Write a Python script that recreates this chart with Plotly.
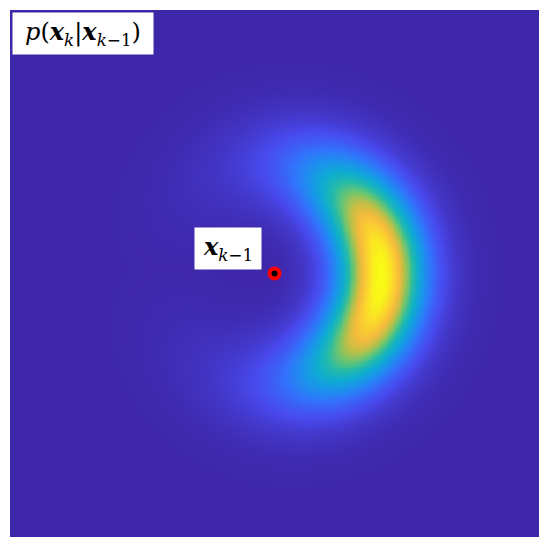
import numpy as np
import plotly.graph_objects as go

# ---- data ----
prev_state = [0.0, 0.0]          # x_{k-1}
range_peak = 0.401               # most likely travelled distance
bearing_mean_deg = 2.0           # heading (to the right, slightly down)

core_range_std = 0.095           # sharp part of the density
core_bearing_deg = 47.0
core_bearing_shape = 2.5

halo_weight = 0.25               # soft halo around it
halo_range_std = 0.16
halo_bearing_deg = 68.0
halo_bearing_shape = 2.0

axis_range = [-1.0, 1.0]
grid_n = 301

title_text = "<i>p</i>(<b><i>x</i></b><sub><i>k</i></sub>|<b><i>x</i></b><sub><i>k</i>\u22121</sub>)"
point_text = "<b><i>x</i></b><sub><i>k</i>\u22121</sub>"

parula = [
    [0.000, "rgb(62,38,168)"],
    [0.100, "rgb(72,74,238)"],
    [0.200, "rgb(50,114,251)"],
    [0.300, "rgb(26,148,235)"],
    [0.400, "rgb(14,172,208)"],
    [0.500, "rgb(36,187,168)"],
    [0.600, "rgb(108,197,112)"],
    [0.700, "rgb(192,191,70)"],
    [0.800, "rgb(246,187,60)"],
    [0.900, "rgb(250,214,44)"],
    [1.000, "rgb(249,251,21)"],
]

# ---- density grid ----
xs = np.linspace(axis_range[0], axis_range[1], grid_n)
ys = np.linspace(axis_range[0], axis_range[1], grid_n)
X, Y = np.meshgrid(xs, ys)
dx = X - prev_state[0]
dy = -(Y - prev_state[1])
r = np.hypot(dx, dy)
th = np.arctan2(dy, dx) - np.deg2rad(bearing_mean_deg)
th = (th + np.pi) % (2 * np.pi) - np.pi


def part(r_std, b_deg, b_shape):
    return (np.exp(-0.5 * ((r - range_peak) / r_std) ** 2)
            * np.exp(-0.5 * np.abs(th / np.deg2rad(b_deg)) ** b_shape))


Z = part(core_range_std, core_bearing_deg, core_bearing_shape) \
    + halo_weight * part(halo_range_std, halo_bearing_deg, halo_bearing_shape)
Z = Z / Z.max()

fig = go.Figure()
fig.add_trace(go.Heatmap(x=xs, y=ys, z=Z, colorscale=parula, zmin=0, zmax=1,
                         zsmooth="best", showscale=False, hoverinfo="skip"))
fig.add_trace(go.Scatter(x=[prev_state[0]], y=[prev_state[1]], mode="markers",
                         marker=dict(size=14, color="#ff0000", line=dict(width=0)),
                         showlegend=False, hoverinfo="skip"))
fig.add_trace(go.Scatter(x=[prev_state[0]], y=[prev_state[1]], mode="markers",
                         marker=dict(size=6, color="#000000", line=dict(width=0)),
                         showlegend=False, hoverinfo="skip"))

fig.add_annotation(xref="paper", yref="paper", x=0.0038, y=0.9962,
                   xanchor="left", yanchor="top", text=title_text, showarrow=False,
                   bgcolor="white", borderpad=0, width=140, height=41, align="center",
                   font=dict(family="DejaVu Serif", size=24, color="black"))
fig.add_annotation(xref="paper", yref="paper", x=0.348, y=0.588,
                   xanchor="left", yanchor="top", text=point_text, showarrow=False,
                   bgcolor="white", borderpad=0, width=66, height=41, align="center",
                   font=dict(family="DejaVu Serif", size=24, color="black"))

fig.update_xaxes(range=axis_range, visible=False, showgrid=False, zeroline=False)
fig.update_yaxes(range=axis_range, visible=False, showgrid=False, zeroline=False)
fig.update_layout(width=534, height=534, margin=dict(l=2, r=3, t=2, b=5),
                  paper_bgcolor="white", plot_bgcolor="white")

fig.write_html("out.html")
